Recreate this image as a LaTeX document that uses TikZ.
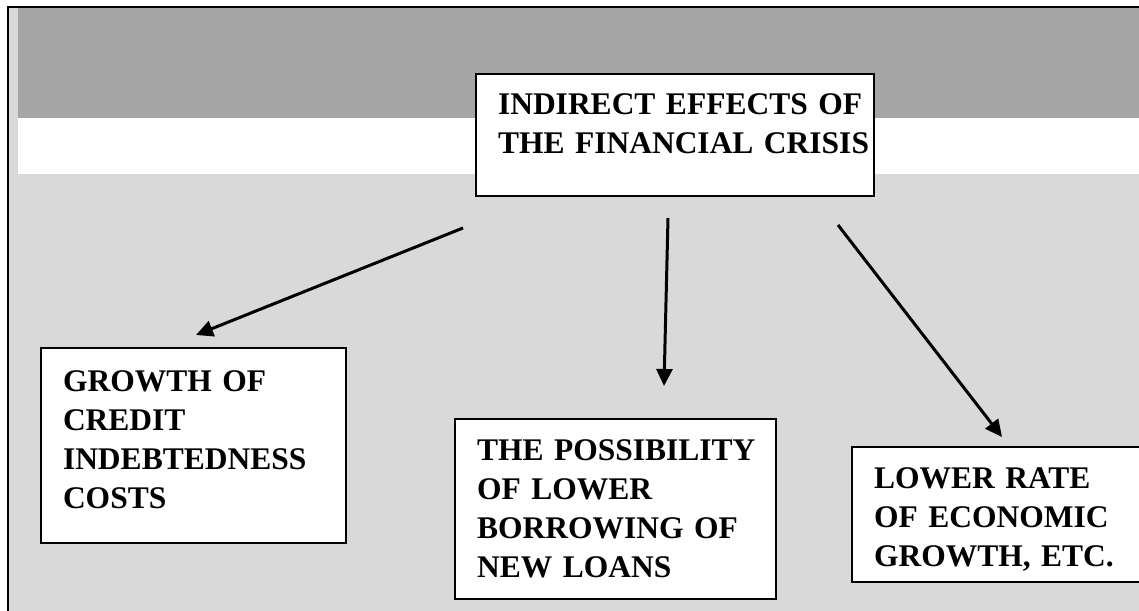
\documentclass[tikz,border=0pt]{standalone}
\usepackage{fontspec}
\setmainfont{Liberation Serif}
\usetikzlibrary{arrows.meta,positioning}
\definecolor{band}{RGB}{166,166,166}
\definecolor{sheet}{RGB}{217,217,217}
\hyphenpenalty=10000
\tikzset{
  >={Triangle[length=17pt,width=16pt]},
  effect/.style={draw=black,fill=white,line width=2pt,anchor=north west,
    align=left,inner xsep=22pt,inner ysep=0pt,
    font=\fontsize{31.5}{39}\selectfont\bfseries},
  flow/.style={->,line width=3pt,draw=black},
}

\begin{document}
\begin{tikzpicture}[x=1pt,y=-1pt]
  \useasboundingbox (0,0) rectangle (1139,610);
  % page background and bands
  \fill[sheet] (8,7) rectangle (1145,615);
  \fill[band] (18,8) rectangle (1145,118);
  \fill[white] (18,118) rectangle (1145,174);
  \draw[line width=2pt] (8,615) -- (8,7) -- (1145,7);
  % boxes
  \node[effect,text width=354pt,text height=40pt,text depth=82pt] (crisis) at (475,73)
    {INDIRECT~EFFECTS~OF\\THE~FINANCIAL~CRISIS};
  \node[effect,text width=261pt,text height=43pt,text depth=152pt] (costs) at (40,347)
    {GROWTH~OF\\CREDIT\\INDEBTEDNESS\\COSTS};
  \node[effect,text width=277pt,text height=41pt,text depth=139pt] (loans) at (454,418)
    {THE~POSSIBILITY\\OF~LOWER\\BORROWING~OF\\NEW~LOANS};
  \node[effect,text width=250pt,text height=41pt,text depth=94pt] (growth) at (851,446)
    {LOWER~RATE\\OF~ECONOMIC\\GROWTH,~ETC.};
  % arrows
  \coordinate (s1) at (463,228);
  \coordinate (e1) at (196,335);
  \coordinate (s2) at (668,218);
  \coordinate (e2) at (664,386);
  \coordinate (s3) at (838,225);
  \coordinate (e3) at (1002,437);
  \draw[flow] (s1) -- (e1);
  \draw[flow] (s2) -- (e2);
  \draw[flow] (s3) -- (e3);
\end{tikzpicture}
\end{document}
